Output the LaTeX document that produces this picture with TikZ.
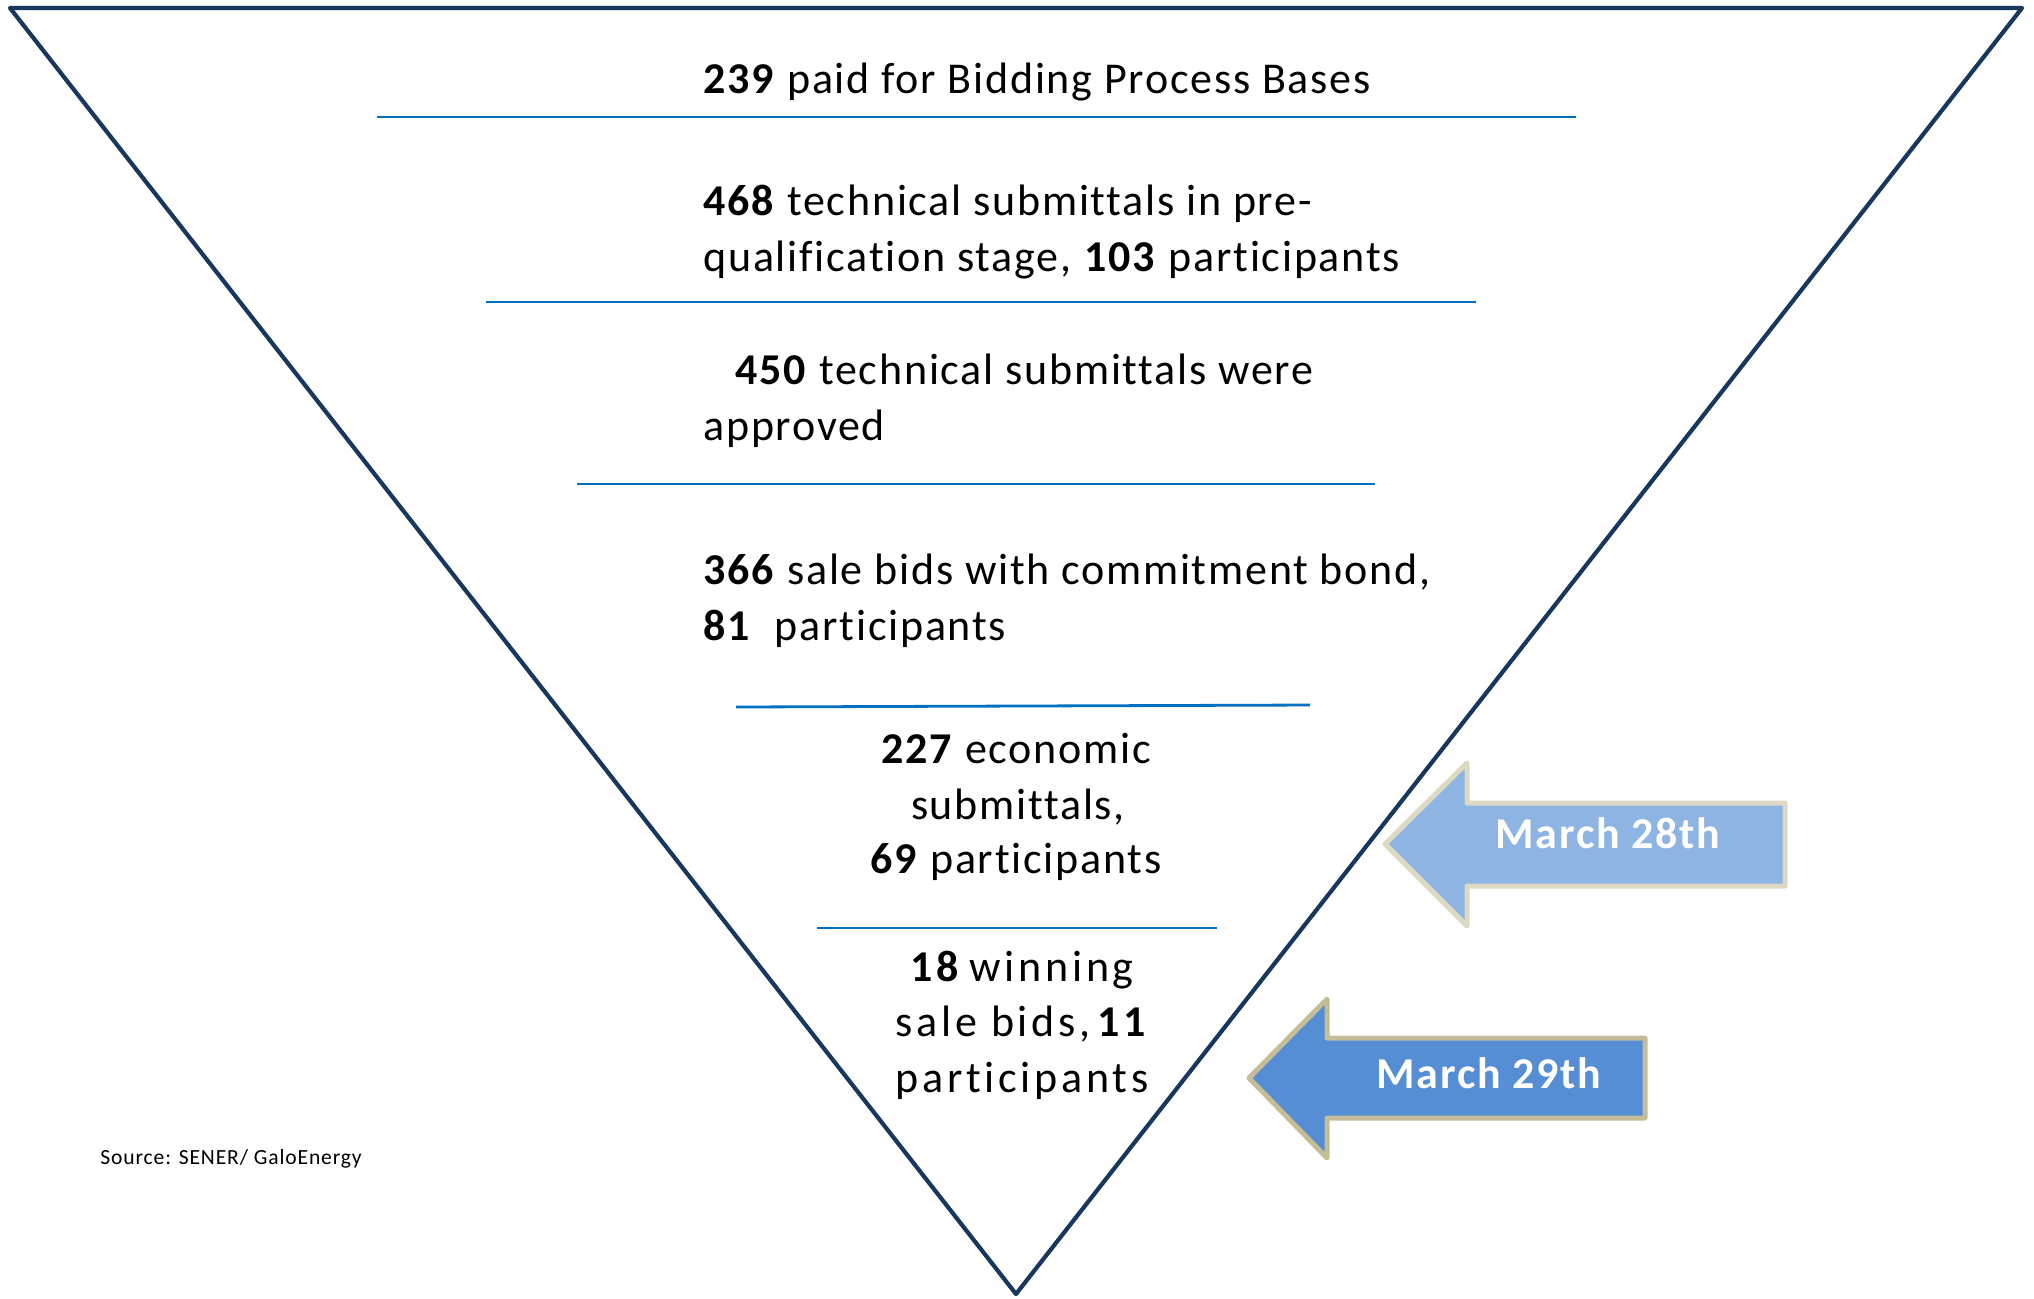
\documentclass[tikz,border=0pt]{standalone}
\usepackage{fontspec}
\setmainfont{Carlito}[Ligatures=NoCommon, LetterSpace=4]
\newfontfamily\widefont{Carlito}[Ligatures=NoCommon, LetterSpace=8.5]
\definecolor{navy}{HTML}{17375E}
\definecolor{rulecol}{HTML}{0070C0}
\definecolor{arrA}{HTML}{8EB4E3}
\definecolor{arrAb}{HTML}{DDD9C3}
\definecolor{arrB}{HTML}{558ED5}
\definecolor{arrBb}{HTML}{C4BD97}
\begin{document}
\begin{tikzpicture}[x=0.5pt,y=-0.5pt,
  txt/.style={inner sep=0pt, font=\fontsize{22pt}{26pt}\selectfont, anchor=base west},
  ctxt/.style={txt, anchor=base},
  sptxt/.style={ctxt, font=\widefont\fontsize{22pt}{26pt}\selectfont},
  seprule/.style={draw=rulecol, line width=1.4pt},
  funnel/.style={draw=navy, line width=2.1pt, line join=round},
  arrowA/.style={fill=arrA, draw=arrAb, line width=2.5pt, line join=round},
  arrowB/.style={fill=arrB, draw=arrBb, line width=2.5pt, line join=round},
  arrtxt/.style={inner sep=0pt, anchor=base, text=white, font=\fontsize{22pt}{26pt}\selectfont\bfseries},
  srctxt/.style={inner sep=0pt, anchor=base west, font=\fontsize{10.8pt}{12pt}\selectfont}]
\useasboundingbox (0,0) rectangle (2034,1298);

% funnel
\coordinate (tl) at (10,8);
\coordinate (tr) at (2022,8);
\coordinate (ap) at (1016,1294);
\draw[funnel] (tl) -- (tr) -- (ap) -- cycle;

% separator rules
\draw[seprule] (377,117) -- (1576,117);
\draw[seprule] (486,302) -- (1476,302);
\draw[seprule] (577,484) -- (1375,484);
\draw[seprule] (736,707) -- (1310,705);
\draw[seprule] (817,928) -- (1217,928);

% texts
\node[txt] (t1) at (703,93) {\textbf{239} paid for Bidding Process Bases};
\node[txt] (t2a) at (703,215) {\textbf{468} technical submittals in pre-};
\node[txt] (t2b) at (703,271) {qualification stage, \textbf{103} participants};
\node[txt] (t3a) at (735,384) {\textbf{450} technical submittals were};
\node[txt] (t3b) at (703,440) {approved};
\node[txt] (t4a) at (703,584) {\textbf{366} sale bids with commitment bond,};
\node[txt] (t4b) at (703,640) {\textbf{81}\ \ participants};
\node[ctxt] (t5a) at (1016,763) {\textbf{227} economic};
\node[ctxt] (t5b) at (1018,819) {submittals,};
\node[ctxt] (t5c) at (1016,873) {\textbf{69} participants};
\node[sptxt] (t6a) at (1022,981) {\textbf{18}\,winning};
\node[sptxt] (t6b) at (1023,1036) {sale bids,\,\textbf{11}};
\node[sptxt] (t6c) at (1022,1092) {participants};
\node[srctxt] (src) at (100,1164) {Source: SENER/ GaloEnergy};

% date arrows
\draw[arrowA] (1385,844) -- (1467,763) -- (1467,803) -- (1785,803) -- (1785,886)
  -- (1467,886) -- (1467,926) -- cycle;
\node[arrtxt] (d1) at (1608,848) {March 28th};
\draw[arrowB] (1249,1078) -- (1327,999) -- (1327,1038) -- (1645,1038) -- (1645,1118)
  -- (1327,1118) -- (1327,1158) -- cycle;
\node[arrtxt] (d2) at (1489,1088) {March 29th};
\end{tikzpicture}
\end{document}
